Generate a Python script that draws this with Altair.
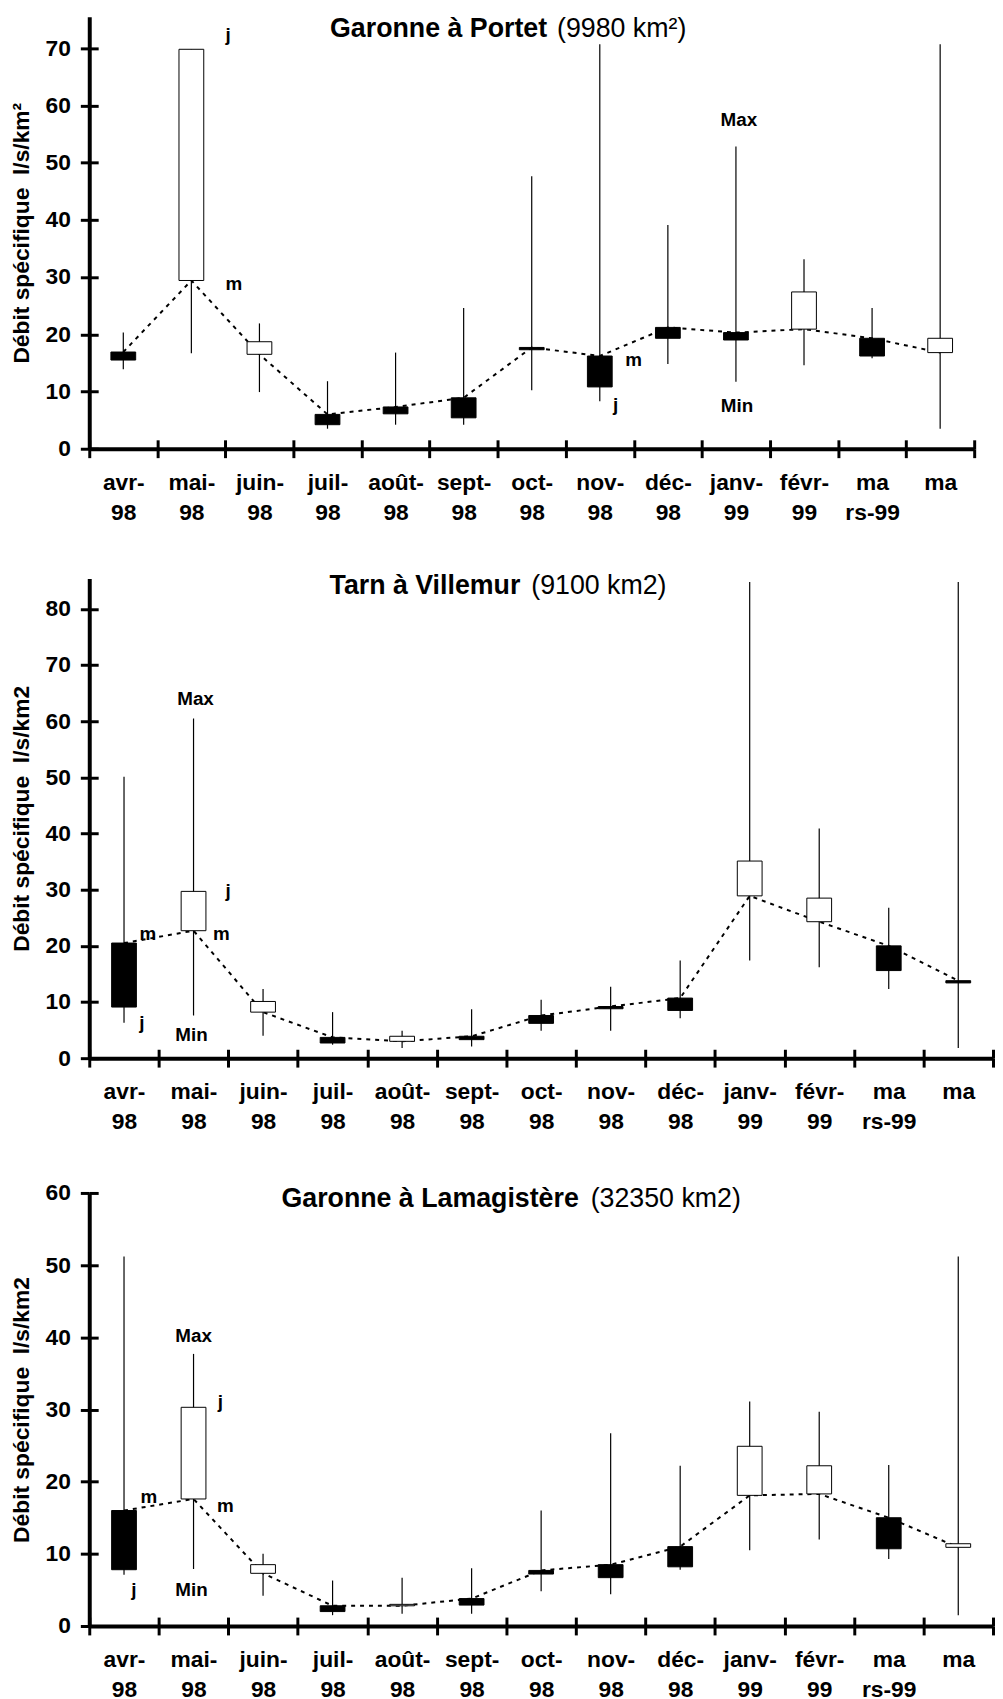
import altair as alt
import pandas as pd

FONT = "Liberation Sans"

# ---------------- data ----------------
months = ["avr-|98", "mai-|98", "juin-|98", "juil-|98", "août-|98", "sept-|98",
          "oct-|98", "nov-|98", "déc-|98", "janv-|99", "févr-|99", "ma|rs-99", "ma"]

# Garonne à Portet
p1_low = [13.9, 16.7, 9.9, 3.5, 4.2, 4.2, 10.2, 8.3, 14.8, 11.7, 14.6, 15.8, 3.5]
p1_high = [20.3, 69.8, 21.9, 11.8, 16.8, 24.6, 47.6, 70.7, 39.1, 52.8, 33.1, 24.6, 70.7]
p1_mean = [16.9, 29.4, 16.5, 6.0, 7.3, 8.9, 17.7, 16.2, 21.2, 20.3, 20.9, 19.3, 16.8]
p1_day = [15.5, 69.8, 18.7, 4.2, 6.1, 5.4, 17.3, 10.8, 19.3, 19.0, 27.4, 16.2, 19.3]

# Tarn à Villemur
p2_low = [6.3, 7.6, 4.0, 2.4, 1.8, 2.1, 4.9, 4.9, 7.1, 17.4, 16.2, 12.3, 1.8]
p2_high = [50.1, 60.5, 12.3, 8.2, 4.9, 8.7, 10.4, 12.7, 17.4, 84.8, 40.9, 26.8, 84.8]
p2_mean = [20.5, 22.7, 8.2, 3.7, 3.0, 3.9, 7.6, 9.2, 10.7, 28.9, 24.3, 20.0, 13.8]
p2_day = [9.1, 29.7, 10.1, 2.7, 3.9, 3.3, 6.2, 8.8, 8.5, 35.1, 28.5, 15.6, 13.4]

# Garonne à Lamagistère
p3_low = [7.1, 7.9, 4.2, 1.5, 1.7, 1.7, 4.8, 4.4, 7.8, 10.5, 12.0, 9.3, 1.5]
p3_high = [51.2, 37.7, 10.0, 6.3, 6.7, 8.0, 16.0, 26.7, 22.2, 31.1, 29.7, 22.3, 51.2]
p3_mean = [16.0, 17.6, 7.3, 2.8, 2.8, 3.8, 7.7, 8.5, 11.0, 18.1, 18.3, 15.0, 10.9]
p3_day = [7.8, 30.3, 8.5, 2.0, 3.0, 2.9, 7.2, 6.7, 8.2, 24.9, 22.2, 10.7, 11.4]

# annotation labels (text, month index, value)
p1_ann_text = ["j", "m", "m", "j", "Max", "Min"]
p1_ann_month = [1, 1, 7, 7, 9, 9]
p1_ann_value = [71.3, 27.7, 14.4, 6.6, 56.4, 6.5]

p2_ann_text = ["Max", "j", "m", "m", "j", "Min"]
p2_ann_month = [1, 1, 0, 1, 0, 1]
p2_ann_value = [62.8, 28.7, 21.1, 21.1, 5.2, 3.1]

p3_ann_text = ["Max", "j", "m", "m", "j", "Min"]
p3_ann_month = [1, 1, 0, 1, 0, 1]
p3_ann_value = [39.3, 30.2, 17.0, 15.8, 4.1, 4.1]

# ---------------- styling / layout ----------------
P1_DX = [37, 43, 34, 16, 3, 1]
P2_DX = [2, 35, 24, 28, 18, -2]
P3_DX = [0, 27, 25, 32, 10, -2]


def make_panel(low, high, mean, day, ymax, yticks, ytitle,
               tbold, treg, tbold_end, treg_x, t_y,
               ann_text, ann_month, ann_value, ann_dx, width, height):
    df = pd.DataFrame({"month": months, "low": low, "high": high,
                       "mean": mean, "day": day})
    df["dir"] = ["up" if d >= m else "down" for d, m in zip(day, mean)]

    xscale = alt.Scale(domain=months, paddingInner=0, paddingOuter=0)
    yscale = alt.Scale(domain=[0, ymax], nice=False, zero=True)

    x_main = alt.Axis(orient="bottom", tickBand="extent", domainWidth=4,
                      domainColor="black", tickWidth=3, tickColor="black",
                      tickSize=9, labelExpr="split(datum.label, '|')",
                      labelFont=FONT, labelFontSize=23, labelFontWeight="bold",
                      labelColor="black", labelPadding=14, labelLineHeight=30,
                      labelAngle=0, labelOverlap=False, title=None, grid=False)
    y_main = alt.Axis(orient="left", values=yticks, domainWidth=4,
                      domainColor="black", tickWidth=3, tickColor="black",
                      tickSize=9, labelFont=FONT, labelFontSize=23,
                      labelFontWeight="bold", labelColor="black",
                      labelPadding=10, title=ytitle, titleFont=FONT,
                      titleFontSize=23, titleFontWeight="bold",
                      titleColor="black", titlePadding=12, grid=False)
    x_in = alt.Axis(orient="top", offset=-height, tickBand="extent",
                    domain=False, labels=False, tickSize=9, tickWidth=3,
                    tickColor="black", title=None, grid=False)
    y_in = alt.Axis(orient="right", offset=-width, values=yticks,
                    domain=False, labels=False, tickSize=9, tickWidth=3,
                    tickColor="black", title=None, grid=False)

    base = alt.Chart(df)
    X0 = alt.X("month:N", sort=months, scale=xscale, axis=None)

    wick = base.mark_rule(color="black", strokeWidth=1.2).encode(
        x=alt.X("month:N", sort=months, scale=xscale, axis=x_main),
        y=alt.Y("low:Q", scale=yscale, axis=y_main),
        y2="high:Q")
    inner = base.mark_point(opacity=0).encode(
        x=alt.X("month:N", sort=months, scale=xscale, axis=x_in),
        y=alt.Y("low:Q", scale=yscale, axis=y_in))
    line = base.mark_line(color="black", strokeWidth=2, strokeDash=[4, 5],
                          interpolate="linear").encode(
        x=X0, y=alt.Y("mean:Q", scale=yscale, axis=None))
    box = base.mark_bar(size=25, stroke="black", strokeWidth=1).encode(
        x=X0, y=alt.Y("mean:Q", scale=yscale, axis=None), y2="day:Q",
        fill=alt.Fill("dir:N", scale=alt.Scale(domain=["up", "down"],
                                               range=["white", "black"]),
                      legend=None))

    layers = [wick, inner, line, box]
    for txt, mi, val, dx in zip(ann_text, ann_month, ann_value, ann_dx):
        adf = pd.DataFrame({"month": [months[mi]], "value": [val], "t": [txt]})
        layers.append(alt.Chart(adf).mark_text(
            font=FONT, fontSize=19, fontWeight="bold", color="black",
            align="center", baseline="alphabetic", dx=dx).encode(
            x=X0, y=alt.Y("value:Q", scale=yscale, axis=None), text="t:N"))

    tdf1 = pd.DataFrame({"t": [tbold]})
    tdf2 = pd.DataFrame({"t": [treg]})
    layers.append(alt.Chart(tdf1).mark_text(
        font=FONT, fontSize=27, fontWeight="bold", color="black",
        align="right", baseline="alphabetic").encode(
        x=alt.value(tbold_end), y=alt.value(t_y), text="t:N"))
    layers.append(alt.Chart(tdf2).mark_text(
        font=FONT, fontSize=27, fontWeight="normal", color="black",
        align="left", baseline="alphabetic").encode(
        x=alt.value(treg_x), y=alt.value(t_y), text="t:N"))

    return alt.layer(*layers).resolve_axis(x="independent", y="independent") \
        .properties(width=width, height=height)


p1 = make_panel(p1_low, p1_high, p1_mean, p1_day, 75.5, list(range(0, 71, 10)),
                "Débit spécifique\u00a0 l/s/km²",
                "Garonne à Portet", "(9980 km²)", 462, 472, 21,
                p1_ann_text, p1_ann_month, p1_ann_value, P1_DX, 893, 436)
p2 = make_panel(p2_low, p2_high, p2_mean, p2_day, 85.4, list(range(0, 81, 10)),
                "Débit spécifique\u00a0 l/s/km2",
                "Tarn à Villemur", "(9100 km2)", 435, 446, 16,
                p2_ann_text, p2_ann_month, p2_ann_value, P2_DX, 912, 484)
p3 = make_panel(p3_low, p3_high, p3_mean, p3_day, 60, list(range(0, 61, 10)),
                "Débit spécifique\u00a0 l/s/km2",
                "Garonne à Lamagistère", "(32350 km2)", 494, 506, 14,
                p3_ann_text, p3_ann_month, p3_ann_value, P3_DX, 912, 437)

chart = alt.vconcat(p1, p2, p3, spacing=49).properties(
    padding={"left": 2, "top": 0, "right": 0, "bottom": 0},
    background="white"
).configure_view(stroke=None)

chart.save("out.html", embed_options={"renderer": "svg", "actions": False})
